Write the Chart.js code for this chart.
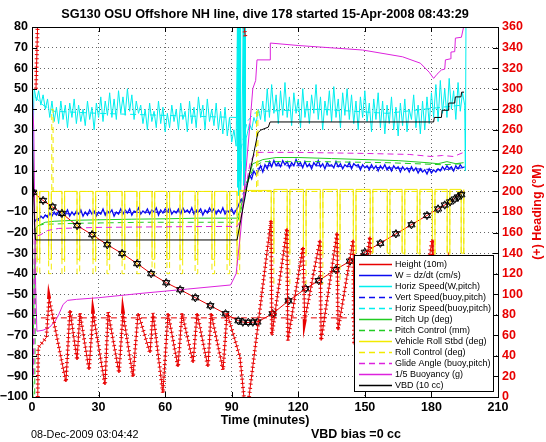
<!DOCTYPE html>
<html>
<head>
<meta charset="utf-8">
<script src="https://cdn.jsdelivr.net/npm/chart.js@4.4.1/dist/chart.umd.min.js"></script>
<style>
  html, body { margin: 0; padding: 0; background: #fff; }
  canvas { display: block; }
</style>
</head>
<body>
<canvas id="dive" width="546" height="442"></canvas>
<script>
/* values, time in minutes */

// Height (10m): depth trace vertices
const heightT = [0, 5, 13.5, 20.3, 27.1, 33.9, 40.6, 47.4, 53.7, 60.5, 66.8, 73.6, 80.4, 87.2, 93, 96, 101.6, 108.4, 115.6, 123.3, 129.2, 136.9, 143.3, 150, 165, 180, 188.4, 194.7];
const heightV = [0, -4.4, -10.7, -16.6, -21, -25.9, -30.2, -35.1, -40, -44.4, -47.8, -51.7, -55.6, -59.5, -62.9, -63.8, -63.5, -59.5, -53.2, -47.3, -43.4, -38, -33.9, -29.6, -20, -10.4, -5.1, 0.3];

// depth samples drawn as markers on the height trace
const markT = [0.5, 5, 9.3, 13.5, 20.3, 27.1, 33.9, 40.6, 47.4, 53.7, 60.5, 66.8, 73.6, 80.4, 87.2, 93, 95, 97.5, 99.5, 101.6, 108.4, 115.6, 123.3, 129.2, 136.9, 143.3, 150, 157, 164, 171, 178, 183, 186, 188.4, 190.5, 192, 193.5];
const markV = [-0.4, -4.4, -7.5, -10.7, -16.6, -21, -25.9, -30.2, -35.1, -40, -44.4, -47.8, -51.7, -55.6, -59.5, -62.9, -63.6, -63.7, -63.6, -63.5, -59.5, -53.2, -47.3, -43.4, -38, -33.9, -29.6, -25.2, -20.6, -16.2, -11.7, -8.5, -6.6, -5.1, -3.7, -2.7, -1.6];

// W = dz/dt (cm/s), one sample per minute
const wDownStart = 1;
const wDown = [-15, -13.5, -14, -12, -13, -11.5, -12.5, -10.5, -12, -10,
  -11.5, -9.5, -12, -10, -11, -9, -12, -10, -11.5, -9.5,
  -11, -9, -12, -10, -11.5, -9, -11, -9.5, -12, -10,
  -11, -8.5, -11.5, -9.5, -10.5, -9, -12, -10, -11, -8.5,
  -11, -9, -10.5, -8.5, -11.5, -9.5, -10, -8, -11, -9.5,
  -10.5, -8.5, -11, -9, -10, -8, -11.5, -9, -10.5, -8.5,
  -10, -8, -11, -9.5, -10.5, -8.5, -11, -8, -10, -9,
  -10.5, -8, -11, -9, -10, -8.5, -11.5, -9, -10.5, -8,
  -10, -8.5, -11, -9, -10.5, -8, -11, -9.5, -10, -8.5,
  -11, -9];
const wTurnT = [93, 94, 95, 96, 97, 98, 99, 100, 101];
const wTurnV = [-7, -4, -5, -1, 4, 8, 6, 10, 8];
const wUpStart = 102;
const wUp = [10, 12.5, 9.5, 13, 11, 14.5, 12, 15, 12.5, 14,
  12, 15, 13, 14.5, 11.5, 14, 12.5, 15.5, 13, 14,
  11.5, 14.5, 12, 13.5, 11, 14, 12.5, 15, 12, 13.5,
  11, 14, 12.5, 13, 11.5, 14.5, 12, 13.5, 11, 13,
  12, 14, 11, 13.5, 12.5, 13, 10.5, 13, 11.5, 12.5,
  10.5, 13, 11, 12.5, 10, 12.5, 11, 13, 10.5, 12,
  10, 12.5, 11, 12, 9.5, 12, 10.5, 11.5, 9.5, 12,
  10, 11.5, 9, 11, 9.5, 10.5, 8.5, 11, 9, 10.5,
  9.5, 11, 10, 12, 10.5, 12.5, 11, 12, 10, 12.5,
  11, 13, 11.5, 12];

// Horiz Speed(W,pitch), one sample per minute
const hsLaunchT = [0.3, 0.8];
const hsLaunchV = [0, 45];
const hsDownStart = 1;
const hsDown = [50, 44, 49, 42, 47, 40, 45, 36, 44, 34,
  41, 33, 44, 35, 42, 31, 43, 36, 45, 33,
  42, 34, 40, 32, 44, 35, 41, 30, 43, 36,
  46, 34, 44, 37, 48, 36, 45, 35, 49, 38,
  46, 37, 50, 39, 47, 35, 44, 38, 42, 33,
  40, 30, 43, 34, 39, 31, 44, 33, 41, 29,
  38, 31, 42, 34, 40, 30, 43, 35, 39, 29,
  44, 33, 41, 31, 46, 36, 42, 30, 45, 34,
  40, 32, 43, 30, 39, 28, 41, 27, 36, 24,
  30, 22];
const hsApogeeT = [92.6, 92.8, 93.0, 93.2, 93.4, 93.6, 93.8, 94.0, 94.5, 95.2, 95.4, 95.6, 95.8, 96.0, 96.2, 96.5];
const hsApogeeV = [85, 2, 88, -2, 86, 5, 90, 0, 15, 85, 3, 88, -4, 86, 10, 26];
const hsUpStart = 97;
const hsUp = [28, 33, 30, 36, 33, 40, 35, 44, 34, 50,
  36, 52, 38, 47, 33, 49, 37, 53, 36, 46,
  32, 48, 38, 45, 31, 50, 36, 44, 33, 47,
  38, 52, 35, 46, 30, 44, 37, 49, 34, 51,
  36, 45, 31, 48, 37, 50, 35, 47, 33, 44,
  30, 46, 36, 49, 34, 43, 29, 45, 35, 48,
  31, 44, 28, 42, 33, 46, 30, 41, 27, 43,
  32, 45, 29, 40, 35, 47, 31, 42, 28, 44,
  30, 46, 33, 48, 36, 52, 34, 54, 38, 50,
  36, 55, 40, 49, 35, 53, 39, 48, 42];
const hsSurfaceT = [195.3, 195.6];
const hsSurfaceV = [10, 90];

// Vert Speed(buoy,pitch) and Horiz Speed(buoy,pitch)
const buoyT = [1.5, 5, 10, 30, 60, 92, 94, 97, 100, 104, 130, 160, 185, 194];
const vertBuoyV = [-14, -12, -11, -10.5, -10, -9.5, -5, 5, 10, 12.5, 12.5, 11.5, 10.5, 11.5];
const horizBuoyV = [46, 42, 39, 38, 37, 36, 20, 34, 38, 39, 40, 38, 41, 42];

// Pitch Up (deg)
const pitchT = [0, 0.6, 1.5, 3, 6, 10, 20, 30, 45, 60, 75, 92.5, 94, 97, 99.5, 102, 104, 110, 120, 135, 150, 165, 178, 183, 187, 191, 194.5];
const pitchV = [0, -70, -18, -16.5, -15, -14.5, -14, -13.8, -13.5, -13.3, -13, -13, -8, 5, 13.5, 14.5, 15.5, 16.5, 16.5, 16, 15.5, 15, 14, 13.5, 14.5, 13.5, 14];

// Pitch Control (mm)
const pitchCtlT = [0, 0.4, 1.2, 1.8, 5, 20, 50, 92.5, 94, 97, 100, 104, 130, 160, 185, 194.5];
const pitchCtlV = [0, -100, -100, -17, -16, -15.5, -15, -15, -10, 4, 12, 14.5, 14.5, 14, 13, 13.5];

// Vehicle Roll Stbd (deg), step changes
const rollT = [0, 2.3, 3.5, 7.5, 8.7, 13.5, 14.7, 20.3, 21.5, 27.5, 28.7, 33.8, 35, 40.6, 41.8, 47.3, 48.5, 54.1, 55.3, 60.8, 62, 66.7, 67.9, 73.5, 74.7, 81.1, 82.3, 87.9, 89.1, 92.4, 93.6,
  107.8, 109, 115, 116.2, 122.3, 123.5, 129.9, 131.1, 137.6, 138.8, 144.8, 146, 152.4, 153.6, 160.1, 161.3, 166.8, 168, 173.6, 174.8, 180.4, 181.6, 187.1, 188.3, 193.4, 194.6];
const rollV = [0, -33, 0, -33, 0, -33, 0, -33, 0, -33, 0, -33, 0, -33, 0, -33, 0, -33, 0, -33, 0, -33, 0, -33, 0, -33, 0, -33, 0, -33, 0.5,
  -30, 1, -30, 1, -30, 1, -30, 1, -30, 1, -30, 1, -30, 1, -30, 1, -30, 1, -30, 1, -30, 1, -30, 1, -30, 1];

// Roll Control (deg), step changes
const rollCtlT = [0, 2.3, 3.5, 7.5, 8.7, 8.9, 9.5, 13.5, 14.7, 20.3, 21.5, 27.5, 28.7, 33.8, 35, 40.6, 41.8, 47.3, 48.5, 54.1, 55.3, 60.8, 62, 66.7, 67.9, 73.5, 74.7, 81.1, 82.3, 87.9, 89.1, 92.4, 93.6,
  101.2, 101.8, 107.8, 109, 115, 116.2, 122.3, 123.5, 129.9, 131.1, 137.6, 138.8, 144.8, 146, 152.4, 153.6, 160.1, 161.3, 166.8, 168, 173.6, 174.8, 180.4, 181.6, 187.1, 188.3, 193.4, 194.6];
const rollCtlV = [0, -40, 0, -40, 0, 40, 0, -40, 0, -40, 0, -40, 0, -40, 0, -40, 0, -40, 0, -40, 0, -40, 0, -40, 0, -40, 0, -40, 0, -40, 0, -40, 0,
  40, 0, -45, 0, -45, 0, -45, 0, -45, 0, -45, 0, -45, 0, -45, 0, -45, 0, -45, 0, -45, 0, -45, 0, -45, 0, -45, 0];

// Glide Angle (buoy,pitch)
const glideT = [0, 0.7, 1.5, 4, 7, 12, 30, 60, 92.5, 94, 96, 98.5, 101, 104, 120, 150, 170, 180, 185, 190, 194.5];
const glideV = [50, -90, -22, -21, -19, -18, -17.5, -17.2, -17, -14, 0, 15, 19, 19, 19, 18.5, 18, 17, 17.5, 17, 19];

// 1/5 Buoyancy (g)
const buoyancyT = [0, 0.8, 1.5, 2.2, 5, 8, 10.5, 12, 14, 16, 20, 30, 50, 70, 89.5, 92, 94, 96, 98, 99.5, 100.8, 101.4, 107.3, 107.4, 120, 149, 167, 175, 179, 181, 182.5, 184.5, 186, 186.3, 188.5, 188.8, 190.5, 190.8, 193.5, 194.5, 195.5];
const buoyancyV = [52, 30, -40, -68, -67.5, -66, -63, -60, -55, -53, -52.5, -51.7, -49.5, -47.5, -45.5, -40, -20, 5, 30, 50, 54, 64, 64, 72.2, 71, 68.8, 65.5, 62.4, 58, 55, 57, 59.1, 59.5, 64, 64.5, 67.8, 68, 74.6, 75, 80, 86];

// VBD (10 cc)
const vbdT = [0, 0.7, 1.3, 1.6, 92.4, 97, 101.8, 103, 106.5, 107.3, 181, 181.3, 184.5, 184.8, 187.5, 187.8, 190.5, 190.8, 193.3, 193.6, 194.7];
const vbdV = [35, 0, -20, -23.6, -23.6, 3, 28.5, 29.8, 31.3, 33.8, 33.8, 36, 36, 39.5, 39.5, 43, 43, 46, 46, 48.3, 48.3];

// (+) Heading (deg M), right axis; null marks a wrap through 0/360
const headingT = [1.8, 2.5, 2.55, 2.6, 2.8, 6.5, 7.7, 15.3, 17.1, 20.3, 21.6, 25.7, 27.5, 32.9, 34.3, 39.2, 41.0, 45.5, 47.8, 53.2, 54.5, 59.0, 61.3, 65.8, 67.6, 72.6, 74.4, 79.3, 80.7, 86.1, 87.9, 93.7, 94.6, 95.5, 95.55, 95.6, 96.1, 96.15,
  97.8, 107.7, 108.1, 114.9, 115.3, 122.1, 122.9, 129.8, 130.3, 137.5, 137.9, 144.7, 145.2, 152.3, 152.8, 160, 160.4, 166.7, 167.2, 173.5, 173.9, 180.3, 180.7, 187, 187.4, 193.3, 193.7];
const headingV = [300, 360, null, 0, 48, 58, 96, 14.6, 84.6, 36, 81.7, 26.3, 81.7, 11.7, 82.7, 23.4, 81.7, 19.5, 81.7, 42.8, 81.7, 3.9, 81.7, 29.2, 81.7, 33.1, 81.7, 29.2, 81.7, 26.3, 81.7, 38.9, 20, 0, null, 360, 351, null,
  0, 172, 60, 164, 55, 146, 75, 153, 55, 160, 65, 153, 51, 156, 75, 131, 60, 136, 75, 116, 65, 153, 77, 128, 80, 131, 100];

// target heading
const targetT = [4, 194];
const targetV = [77, 77];

const legendLabels = ['Height (10m)', 'W = dz/dt (cm/s)', 'Horiz Speed(W,pitch)', 'Vert Speed(buoy,pitch)',
  'Horiz Speed(buoy,pitch)', 'Pitch Up (deg)', 'Pitch Control (mm)', 'Vehicle Roll Stbd (deg)',
  'Roll Control (deg)', 'Glide Angle (buoy,pitch)', '1/5 Buoyancy (g)', 'VBD (10 cc)'];

const FONT = "'Liberation Sans', Arial, Helvetica, sans-serif";
const RED = '#e80000', BLUE = '#0a0af0', CYAN = '#00eeee', GREEN = '#22cc22',
  YELLOW = '#f2ea00', MAGENTA = '#dd22dd', BLACK = '#000000';
const DASH = [6, 4];

function pts(ts, vs) { return ts.map((t, i) => ({ x: t, y: vs[i] })); }
function run(t0, vs) { return vs.map((v, i) => ({ x: t0 + i, y: v })); }

function series(label, data, color, extra) {
  return Object.assign({
    label, data, borderColor: color, backgroundColor: color,
    borderWidth: 1, pointRadius: 0, tension: 0, fill: false, spanGaps: false, clip: 0
  }, extra || {});
}

const datasets = [
  series('heading', pts(headingT, headingV), RED, { yAxisID: 'y2', order: 0 }),
  series('heading ticks', pts(headingT, headingV), RED, { yAxisID: 'y2', order: 0, borderWidth: 4, borderDash: [1, 3.2] }),
  series('depth samples', pts(markT, markV), BLACK, { showLine: false, pointRadius: 4.2, pointStyle: 'triangle', pointBorderColor: BLACK, pointBackgroundColor: 'rgba(0,0,0,0)', pointBorderWidth: 1, order: 1 }),
  series('depth samples v', pts(markT, markV), BLACK, { showLine: false, pointRadius: 4.2, pointStyle: 'triangle', pointRotation: 180, pointBorderColor: BLACK, pointBackgroundColor: 'rgba(0,0,0,0)', pointBorderWidth: 1, order: 1 }),
  series('target heading', pts(targetT, targetV), RED, { yAxisID: 'y2', borderDash: DASH, order: 2 }),
  series('VBD (10 cc)', pts(vbdT, vbdV), BLACK, { order: 3 }),
  series('1/5 Buoyancy (g)', pts(buoyancyT, buoyancyV), MAGENTA, { order: 4 }),
  series('Glide Angle (buoy,pitch)', pts(glideT, glideV), MAGENTA, { borderDash: DASH, order: 5 }),
  series('Roll Control (deg)', pts(rollCtlT, rollCtlV), YELLOW, { borderDash: DASH, stepped: true, order: 6 }),
  series('Vehicle Roll Stbd (deg)', pts(rollT, rollV), YELLOW, { stepped: true, order: 7 }),
  series('Pitch Control (mm)', pts(pitchCtlT, pitchCtlV), GREEN, { borderDash: DASH, order: 8 }),
  series('Pitch Up (deg)', pts(pitchT, pitchV), GREEN, { order: 9 }),
  series('Horiz Speed(buoy,pitch)', pts(buoyT, horizBuoyV), CYAN, { borderDash: DASH, order: 10 }),
  series('Vert Speed(buoy,pitch)', pts(buoyT, vertBuoyV), BLUE, { borderDash: DASH, order: 11 }),
  series('Horiz Speed(W,pitch)', [].concat(pts(hsLaunchT, hsLaunchV), run(hsDownStart, hsDown), pts(hsApogeeT, hsApogeeV), run(hsUpStart, hsUp), pts(hsSurfaceT, hsSurfaceV)), CYAN, { order: 12 }),
  series('W = dz/dt (cm/s)', [].concat(run(wDownStart, wDown), pts(wTurnT, wTurnV), run(wUpStart, wUp)), BLUE, { order: 13, borderWidth: 1.3 }),
  series('Height (10m)', pts(heightT, heightV), RED, { order: 14 })
];

const decor = {
  id: 'decor',
  afterDatasetsDraw(chart) {
    const { ctx, chartArea: a, scales } = chart;
    ctx.save();
    ctx.setLineDash([]);
    ctx.strokeStyle = '#000';
    ctx.lineWidth = 1;
    // inward tick marks
    ctx.beginPath();
    scales.x.ticks.forEach(tk => {
      const px = Math.round(scales.x.getPixelForValue(tk.value)) + 0.5;
      ctx.moveTo(px, a.bottom); ctx.lineTo(px, a.bottom - 5);
      ctx.moveTo(px, a.top); ctx.lineTo(px, a.top + 5);
    });
    scales.y.ticks.forEach(tk => {
      const py = Math.round(scales.y.getPixelForValue(tk.value)) + 0.5;
      ctx.moveTo(a.left, py); ctx.lineTo(a.left + 5, py);
    });
    scales.y2.ticks.forEach(tk => {
      const py = Math.round(scales.y2.getPixelForValue(tk.value)) + 0.5;
      ctx.moveTo(a.right, py); ctx.lineTo(a.right - 5, py);
    });
    ctx.stroke();
    ctx.strokeRect(Math.round(a.left) + 0.5, Math.round(a.top) + 0.5, Math.round(a.right - a.left), Math.round(a.bottom - a.top));

    // legend box inside the axes
    const bx = Math.round(a.right) - 144, by = Math.round(a.bottom) - 142;
    ctx.fillStyle = '#fff';
    ctx.fillRect(bx, by, 139, 136);
    ctx.strokeRect(bx + 0.5, by + 0.5, 139, 136);
    ctx.font = '9px ' + FONT;
    ctx.textBaseline = 'middle';
    legendLabels.forEach((lab, i) => {
      const ds = chart.data.datasets.find(d => d.label === lab);
      const y = by + 9.5 + i * 11;
      ctx.beginPath();
      ctx.setLineDash(ds.borderDash || []);
      ctx.strokeStyle = ds.borderColor;
      ctx.lineWidth = 1.5;
      ctx.moveTo(bx + 5, y); ctx.lineTo(bx + 38, y);
      ctx.stroke();
      ctx.setLineDash([]);
      ctx.fillStyle = '#000';
      ctx.fillText(lab, bx + 41, y + 0.5);
    });
    ctx.restore();
  },
  afterDraw(chart) {
    const { ctx, chartArea: a } = chart;
    ctx.save();
    ctx.fillStyle = '#000';
    ctx.textBaseline = 'middle';
    ctx.textAlign = 'center';
    ctx.font = 'bold 12.7px ' + FONT;
    ctx.fillText('SG130 OSU Offshore NH line, dive 178 started 15-Apr-2008 08:43:29', (a.left + a.right) / 2, 14);
    ctx.textAlign = 'left';
    ctx.font = '10.8px ' + FONT;
    ctx.fillText('08-Dec-2009 03:04:42', 31, 435);
    ctx.font = 'bold 12.5px ' + FONT;
    ctx.fillText('VBD bias =0 cc', 311, 435);
    ctx.translate(538, (a.top + a.bottom) / 2);
    ctx.rotate(-Math.PI / 2);
    ctx.textAlign = 'center';
    ctx.fillStyle = RED;
    ctx.fillText('(+) Heading (\u00B0M)', 0, 0);
    ctx.restore();
  }
};

const tickFont = { family: FONT, size: 12.5, weight: 'bold' };
const gridStyle = { color: 'rgba(0,0,0,0.6)', lineWidth: 1, drawTicks: false };

new Chart(document.getElementById('dive').getContext('2d'), {
  type: 'line',
  data: { datasets },
  plugins: [decor],
  options: {
    responsive: false,
    animation: false,
    devicePixelRatio: 1,
    layout: { padding: { top: 27, left: 0, right: 0, bottom: 0 } },
    plugins: { legend: { display: false }, tooltip: { enabled: false }, title: { display: false } },
    scales: {
      x: {
        type: 'linear', min: 0, max: 210,
        ticks: { stepSize: 30, font: tickFont, color: '#000', padding: 3, maxRotation: 0 },
        grid: gridStyle,
        border: { display: false, dash: [1, 3] },
        title: { display: true, text: 'Time (minutes)', font: tickFont, color: '#000', padding: { top: 0, bottom: 13.5 } },
        afterFit(s) { s.height = 45; }
      },
      y: {
        position: 'left', min: -100, max: 80,
        ticks: { stepSize: 10, font: tickFont, color: '#000', padding: 4, callback: v => String(v).replace('-', '\u2212') },
        grid: gridStyle,
        border: { display: false, dash: [1, 3] },
        afterFit(s) { s.width = 32; }
      },
      y2: {
        position: 'right', min: 0, max: 360,
        ticks: { stepSize: 20, font: tickFont, color: RED, padding: 4 },
        grid: { display: false, drawTicks: false },
        border: { display: false },
        afterFit(s) { s.width = 48; }
      }
    }
  }
});
</script>
</body>
</html>
